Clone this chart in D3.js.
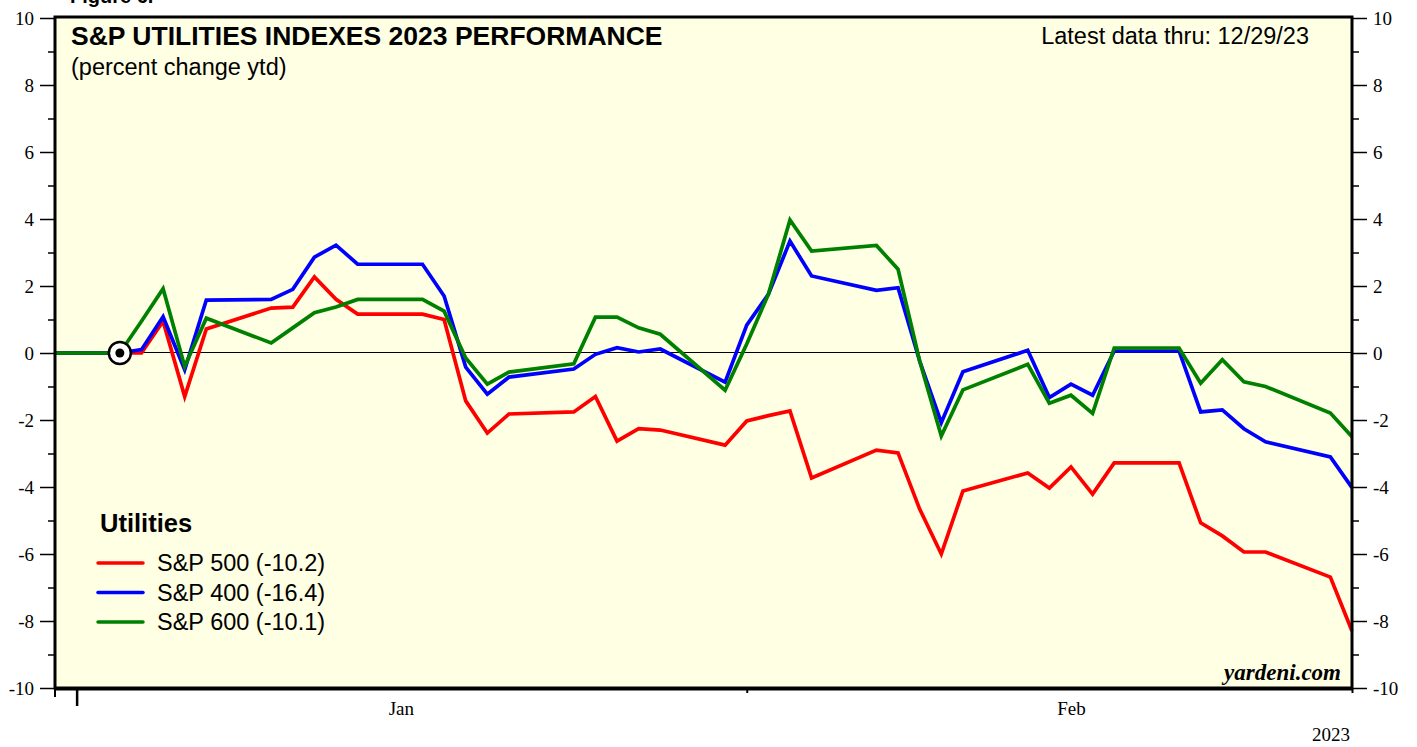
<!DOCTYPE html>
<html>
<head>
<meta charset="utf-8">
<script src="https://cdn.jsdelivr.net/npm/d3@7"></script>
<style>
  body { margin: 0; background: #fff; }
  svg { display: block; }
  .tick text { font-family: "Liberation Serif", "Times New Roman", serif; font-size: 19px; fill: #000; }
</style>
</head>
<body>
<svg id="chart"></svg>
<script>
let width = 1417,
    height = 747;

// trading days (as plotted) and percent change ytd
let dates = ['2022-12-31', '2023-01-03', '2023-01-04', '2023-01-05', '2023-01-06', '2023-01-07',
    '2023-01-10', '2023-01-11', '2023-01-12', '2023-01-13', '2023-01-14',
    '2023-01-17', '2023-01-18', '2023-01-19', '2023-01-20', '2023-01-21',
    '2023-01-24', '2023-01-25', '2023-01-26', '2023-01-27', '2023-01-28',
    '2023-01-31', '2023-02-01', '2023-02-02', '2023-02-03', '2023-02-04',
    '2023-02-07', '2023-02-08', '2023-02-09', '2023-02-10', '2023-02-11',
    '2023-02-14', '2023-02-15', '2023-02-16', '2023-02-17', '2023-02-18',
    '2023-02-21', '2023-02-22', '2023-02-23', '2023-02-24', '2023-02-25',
    '2023-02-28', '2023-03-01'];

let sp500 = [0, 0, 0, 0.95, -1.3, 0.72,
    1.34, 1.37, 2.27, 1.6, 1.16,
    1.16, 1.0, -1.43, -2.39, -1.82,
    -1.76, -1.3, -2.63, -2.26, -2.3,
    -2.75, -2.03, -1.87, -1.73, -3.73,
    -2.9, -2.98, -4.66, -6.0, -4.12,
    -3.58, -4.03, -3.4, -4.21, -3.28,
    -3.28, -5.07, -5.46, -5.94, -5.94,
    -6.69, -8.3];

let sp400 = [0, 0, 0.1, 1.08, -0.5, 1.58,
    1.6, 1.9, 2.86, 3.22, 2.65,
    2.65, 1.7, -0.42, -1.23, -0.72,
    -0.48, -0.04, 0.16, 0.03, 0.12,
    -0.87, 0.83, 1.75, 3.34, 2.3,
    1.87, 1.95, -0.24, -2.08, -0.56,
    0.08, -1.33, -0.93, -1.26, 0.06,
    0.06, -1.76, -1.7, -2.26, -2.65,
    -3.1, -4.02];

let sp600 = [0, 0, 0.95, 1.92, -0.4, 1.04,
    0.3, 0.75, 1.2, 1.37, 1.6,
    1.6, 1.25, -0.15, -0.93, -0.57,
    -0.32, 1.07, 1.07, 0.75, 0.56,
    -1.11, 0.27, 1.75, 3.97, 3.04,
    3.21, 2.5, -0.24, -2.48, -1.1,
    -0.34, -1.5, -1.26, -1.8, 0.15,
    0.15, -0.9, -0.2, -0.86, -1.0,
    -1.79, -2.5];

let seriesNames = ['S&P 500 (-10.2)', 'S&P 400 (-16.4)', 'S&P 600 (-10.1)'];
let seriesColors = ['#ff0000', '#0000ff', '#008000'];
let monthLabels = ['2023-01-16', '2023-02-16'];
let monthTicks = ['2023-01-01', '2023-02-01', '2023-03-01'];
let startPoint = ['2023-01-03', 0];

let parse = d3.utcParse('%Y-%m-%d');

let plotLeft = 55, plotRight = 1352, plotTop = 18, plotBottom = 688;

let x = d3.scaleUtc()
    .domain([parse('2022-12-31'), parse('2023-03-01')])
    .range([plotLeft, plotRight]);

let y = d3.scaleLinear()
    .domain([-10, 10])
    .range([plotBottom, plotTop]);

let svg = d3.select('svg#chart')
    .attr('width', width)
    .attr('height', height);

// figure caption, clipped by the top edge as in the source
svg.append('text')
    .attr('x', 70)
    .attr('y', 3)
    .attr('font-family', 'Liberation Sans, Arial, sans-serif')
    .attr('font-weight', 'bold')
    .attr('font-size', 20)
    .text('Figure 6.');

svg.append('rect')
    .attr('x', plotLeft)
    .attr('y', plotTop)
    .attr('width', plotRight - plotLeft)
    .attr('height', plotBottom - plotTop)
    .attr('fill', '#ffffe4');

// zero line
svg.append('line')
    .attr('x1', plotLeft).attr('x2', plotRight)
    .attr('y1', y(0) - 0.5).attr('y2', y(0) - 0.5)
    .attr('stroke', '#000')
    .attr('stroke-width', 1.2)
    .attr('shape-rendering', 'crispEdges');

let majorY = d3.range(-10, 11, 2);
let minorY = d3.range(-9, 10, 2);
let plainNum = d => String(d);

function yAxes() {
    let gl = svg.append('g').attr('transform', `translate(${plotLeft},0)`);
    gl.call(d3.axisLeft(y).tickValues(majorY).tickSize(15).tickPadding(6).tickFormat(plainNum));
    gl.append('g').call(d3.axisLeft(y).tickValues(minorY).tickSize(7).tickFormat(''));
    let gr = svg.append('g').attr('transform', `translate(${plotRight},0)`);
    gr.call(d3.axisRight(y).tickValues(majorY).tickSize(15).tickPadding(6).tickFormat(plainNum));
    gr.append('g').call(d3.axisRight(y).tickValues(minorY).tickSize(7).tickFormat(''));
    svg.selectAll('.domain').remove();
    svg.selectAll('.tick line').attr('stroke', '#000').attr('stroke-width', 1.5);
    svg.selectAll('.tick text').attr('dy', '0.34em');
}
yAxes();

// bottom axis: month boundaries and mid-month labels
let gb = svg.append('g').attr('transform', `translate(0,${plotBottom})`);
gb.call(d3.axisBottom(x).tickValues(monthTicks.map(parse)).tickFormat(''));
gb.selectAll('.tick line')
    .attr('stroke', '#000')
    .attr('stroke-width', (d, i) => i === 0 ? 2.5 : 2)
    .attr('y2', (d, i) => i === 0 ? 18 : 5);
gb.select('.domain').remove();
gb.append('line')
    .attr('x1', plotLeft).attr('x2', plotLeft)
    .attr('y1', 0).attr('y2', 9)
    .attr('stroke', '#000').attr('stroke-width', 2);

let gm = svg.append('g').attr('transform', `translate(0,${plotBottom})`);
gm.call(d3.axisBottom(x).tickValues(monthLabels.map(parse)).tickSize(0).tickPadding(14).tickFormat(d3.utcFormat('%b')));
gm.select('.domain').remove();
gm.selectAll('.tick text').attr('font-size', 17.5);

svg.append('text')
    .attr('x', plotRight - 2)
    .attr('y', 741)
    .attr('text-anchor', 'end')
    .attr('font-family', 'Liberation Serif, Times New Roman, serif')
    .attr('font-size', 19)
    .text('2023');

// series lines
let line = d3.line()
    .x(d => x(d[0]))
    .y(d => y(d[1]));

let allSeries = [sp500, sp400, sp600];
allSeries.forEach((vals, i) => {
    let pts = dates.map((dt, j) => [parse(dt), vals[j]]);
    svg.append('path')
        .datum(pts)
        .attr('fill', 'none')
        .attr('stroke', seriesColors[i])
        .attr('stroke-width', 3.7)
        .attr('stroke-linejoin', 'miter')
        .attr('d', line);
});

// start marker
svg.append('circle')
    .attr('cx', x(parse(startPoint[0])))
    .attr('cy', y(startPoint[1]))
    .attr('r', 11)
    .attr('fill', '#fff')
    .attr('stroke', '#000')
    .attr('stroke-width', 2.5);
svg.append('circle')
    .attr('cx', x(parse(startPoint[0])))
    .attr('cy', y(startPoint[1]))
    .attr('r', 4.5)
    .attr('fill', '#000');

// frame
svg.append('rect')
    .attr('x', plotLeft)
    .attr('y', plotTop - 1)
    .attr('width', plotRight - plotLeft)
    .attr('height', plotBottom - plotTop + 1)
    .attr('fill', 'none')
    .attr('stroke', '#000')
    .attr('stroke-width', 3);
svg.append('line')
    .attr('x1', plotLeft - 1).attr('x2', plotRight + 1)
    .attr('y1', plotBottom + 1).attr('y2', plotBottom + 1)
    .attr('stroke', '#000').attr('stroke-width', 3);

// titles
svg.append('text')
    .attr('x', 71)
    .attr('y', 45)
    .attr('font-family', 'Liberation Sans, Arial, sans-serif')
    .attr('font-weight', 'bold')
    .attr('font-size', 26.5)
    .text('S&P UTILITIES INDEXES 2023 PERFORMANCE');

svg.append('text')
    .attr('x', 71)
    .attr('y', 75)
    .attr('font-family', 'Liberation Sans, Arial, sans-serif')
    .attr('font-size', 23.5)
    .text('(percent change ytd)');

svg.append('text')
    .attr('x', 1309)
    .attr('y', 44)
    .attr('text-anchor', 'end')
    .attr('font-family', 'Liberation Sans, Arial, sans-serif')
    .attr('font-size', 23.5)
    .text('Latest data thru: 12/29/23');

svg.append('text')
    .attr('x', 1341)
    .attr('y', 680)
    .attr('text-anchor', 'end')
    .attr('font-family', 'Liberation Serif, Times New Roman, serif')
    .attr('font-weight', 'bold')
    .attr('font-style', 'italic')
    .attr('font-size', 23)
    .text('yardeni.com');

// legend
let legend = svg.append('g').attr('transform', 'translate(98,532)');
legend.append('text')
    .attr('x', 2)
    .attr('y', 0)
    .attr('font-family', 'Liberation Sans, Arial, sans-serif')
    .attr('font-weight', 'bold')
    .attr('font-size', 25.5)
    .text('Utilities');

let rows = legend.selectAll('g.row')
    .data(seriesNames)
    .join('g')
    .attr('class', 'row')
    .attr('transform', (d, i) => `translate(0,${31 + i * 29.5})`);
rows.append('line')
    .attr('x1', 0).attr('x2', 45)
    .attr('stroke', (d, i) => seriesColors[i])
    .attr('stroke-width', 3.5)
    .attr('stroke-linecap', 'round');
rows.append('text')
    .attr('x', 59)
    .attr('y', 8)
    .attr('font-family', 'Liberation Sans, Arial, sans-serif')
    .attr('font-size', 23.5)
    .text(d => d);
</script>
</body>
</html>
